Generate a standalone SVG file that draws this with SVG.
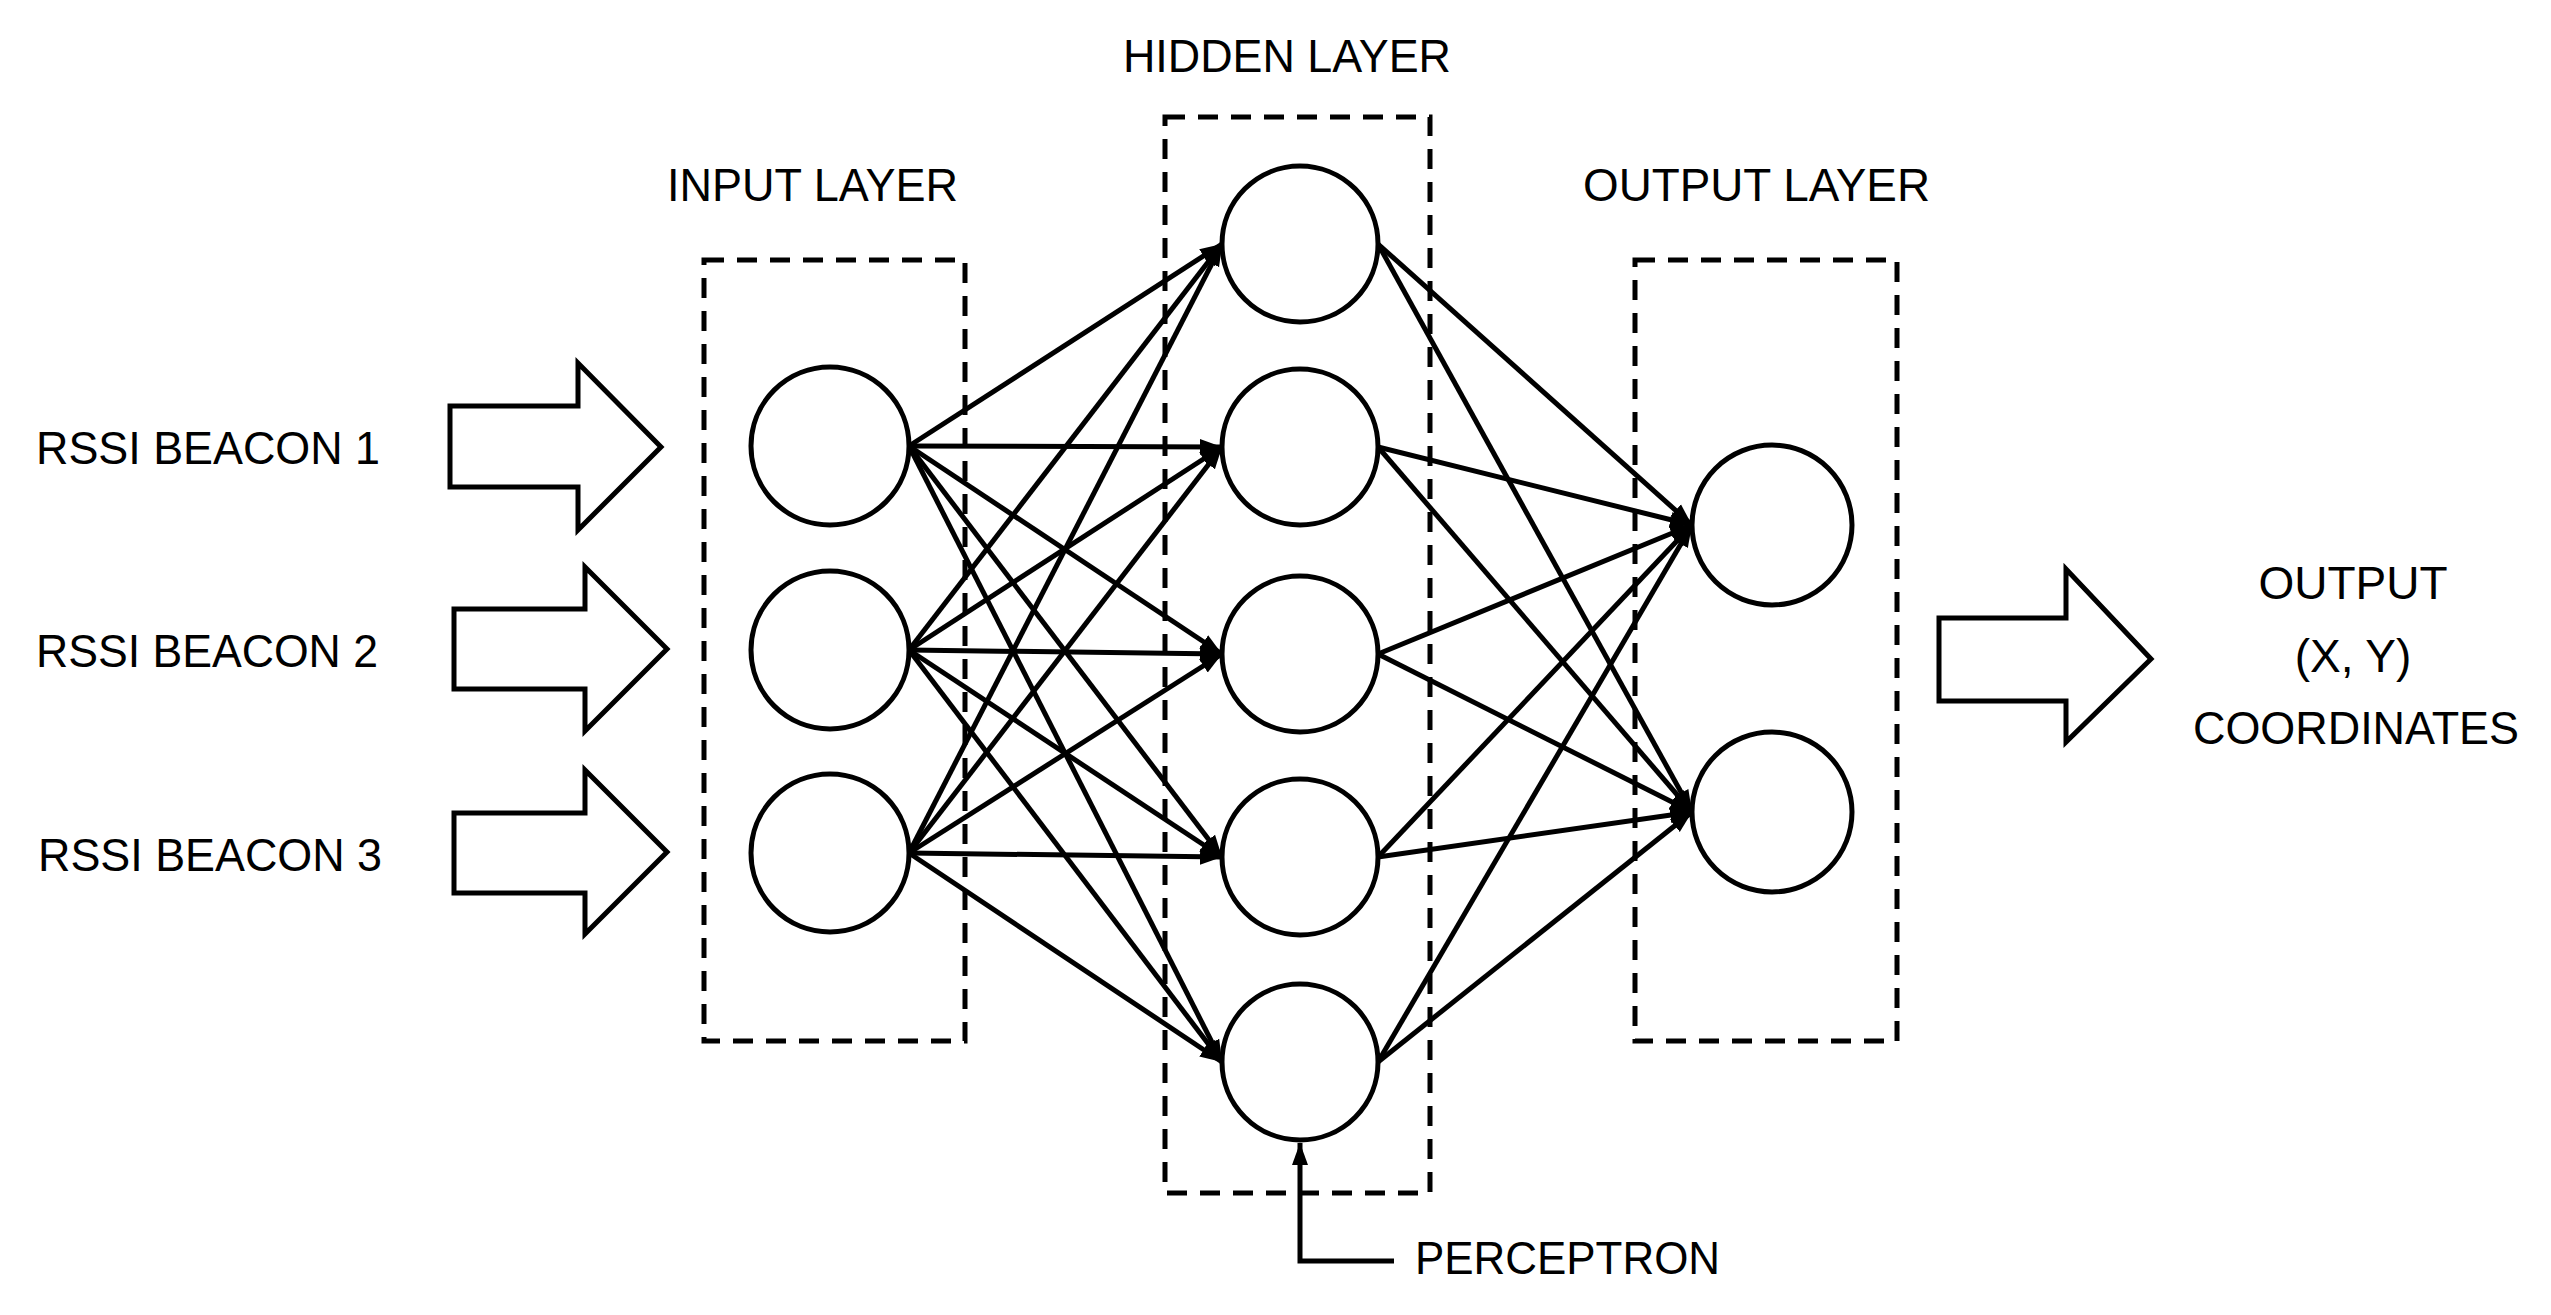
<svg xmlns="http://www.w3.org/2000/svg" width="2551" height="1315" viewBox="0 0 2551 1315">
<style>
.t{font-family:"Liberation Sans",Arial,sans-serif;font-size:46px;fill:#000}
.n{fill:#fff;stroke:#000;stroke-width:5}
.box{fill:none;stroke:#000;stroke-width:5;stroke-dasharray:20 13}
.big{fill:#fff;stroke:#000;stroke-width:5;stroke-linejoin:miter}
.c line{stroke:#000;stroke-width:5;marker-end:url(#ah)}
</style>
<defs>
<marker id="ah" markerUnits="userSpaceOnUse" markerWidth="24" markerHeight="20" refX="22" refY="10" orient="auto"><path d="M0,2 L22,10 L0,18 Z" fill="#000"/></marker>
</defs>
<rect width="2551" height="1315" fill="#fff"/>
<rect class="box" x="704" y="260" width="261" height="781"/>
<rect class="box" x="1165" y="117" width="265" height="1076"/>
<rect class="box" x="1635" y="260" width="262" height="781"/>
<text class="t" x="667" y="201" textLength="291" lengthAdjust="spacingAndGlyphs">INPUT LAYER</text>
<text class="t" x="1123" y="72" textLength="328" lengthAdjust="spacingAndGlyphs">HIDDEN LAYER</text>
<text class="t" x="1583" y="201" textLength="347" lengthAdjust="spacingAndGlyphs">OUTPUT LAYER</text>
<g id="in-arrows">
<path class="big" d="M450,406 H578 V363 L661,447 L578,530 V487 H450 Z"/>
<path class="big" d="M454,609 H585 V567 L667,649 L585,731 V689 H454 Z"/>
<path class="big" d="M454,813 H585 V770 L667,852 L585,934 V893 H454 Z"/>
</g>
<text class="t" x="36" y="464" textLength="344" lengthAdjust="spacingAndGlyphs">RSSI BEACON 1</text>
<text class="t" x="36" y="667" textLength="342" lengthAdjust="spacingAndGlyphs">RSSI BEACON 2</text>
<text class="t" x="38" y="871" textLength="344" lengthAdjust="spacingAndGlyphs">RSSI BEACON 3</text>
<g class="c" id="connectors">
<line x1="909" y1="446" x2="1222" y2="244"/><line x1="909" y1="446" x2="1222" y2="447"/><line x1="909" y1="446" x2="1222" y2="654"/><line x1="909" y1="446" x2="1222" y2="857"/><line x1="909" y1="446" x2="1222" y2="1062"/>
<line x1="909" y1="650" x2="1222" y2="244"/><line x1="909" y1="650" x2="1222" y2="447"/><line x1="909" y1="650" x2="1222" y2="654"/><line x1="909" y1="650" x2="1222" y2="857"/><line x1="909" y1="650" x2="1222" y2="1062"/>
<line x1="909" y1="853" x2="1222" y2="244"/><line x1="909" y1="853" x2="1222" y2="447"/><line x1="909" y1="853" x2="1222" y2="654"/><line x1="909" y1="853" x2="1222" y2="857"/><line x1="909" y1="853" x2="1222" y2="1062"/>
<line x1="1378" y1="244" x2="1692" y2="525"/><line x1="1378" y1="244" x2="1692" y2="812"/>
<line x1="1378" y1="447" x2="1692" y2="525"/><line x1="1378" y1="447" x2="1692" y2="812"/>
<line x1="1378" y1="654" x2="1692" y2="525"/><line x1="1378" y1="654" x2="1692" y2="812"/>
<line x1="1378" y1="857" x2="1692" y2="525"/><line x1="1378" y1="857" x2="1692" y2="812"/>
<line x1="1378" y1="1062" x2="1692" y2="525"/><line x1="1378" y1="1062" x2="1692" y2="812"/>
<path d="M1394,1261 H1300 V1143" fill="none" stroke="#000" stroke-width="5" marker-end="url(#ah)"/>
</g>
<g id="input1"><circle class="n" cx="830" cy="446" r="79"/></g>
<g id="input2"><circle class="n" cx="830" cy="650" r="79"/></g>
<g id="input3"><circle class="n" cx="830" cy="853" r="79"/></g>
<g id="hidden1"><circle class="n" cx="1300" cy="244" r="78"/></g>
<g id="hidden2"><circle class="n" cx="1300" cy="447" r="78"/></g>
<g id="hidden3"><circle class="n" cx="1300" cy="654" r="78"/></g>
<g id="hidden4"><circle class="n" cx="1300" cy="857" r="78"/></g>
<g id="hidden5"><circle class="n" cx="1300" cy="1062" r="78"/></g>
<g id="output1"><circle class="n" cx="1772" cy="525" r="80"/></g>
<g id="output2"><circle class="n" cx="1772" cy="812" r="80"/></g>
<g id="out-arrow"><path class="big" d="M1939,618 H2066 V569 L2151,659 L2066,742 V701 H1939 Z"/></g>
<text class="t" x="2353" y="599" text-anchor="middle">OUTPUT</text>
<text class="t" x="2353" y="672" text-anchor="middle">(X, Y)</text>
<text class="t" x="2356" y="744" text-anchor="middle" textLength="326" lengthAdjust="spacingAndGlyphs">COORDINATES</text>
<text class="t" x="1415" y="1274" textLength="305" lengthAdjust="spacingAndGlyphs">PERCEPTRON</text>
</svg>
